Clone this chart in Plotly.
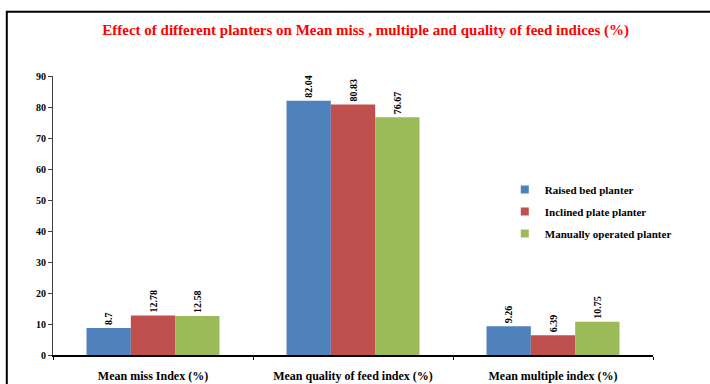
import plotly.graph_objects as go

categories = ["Mean miss Index (%)", "Mean quality of feed index (%)", "Mean multiple index (%)"]
raised_bed = [8.7, 82.04, 9.26]
inclined_plate = [12.78, 80.83, 6.39]
manual = [12.58, 76.67, 10.75]
series_names = ["Raised bed planter", "Inclined plate planter", "Manually operated planter"]
series_colors = ["#4F81BD", "#C0504D", "#9BBB59"]
y_ticks = list(range(0, 100, 10))

serif = "Liberation Serif, Times New Roman, serif"

fig = go.Figure()
for i, (name, vals, col) in enumerate(zip(series_names, [raised_bed, inclined_plate, manual], series_colors)):
    fig.add_trace(go.Bar(
        x=categories, y=vals, name=name,
        marker=dict(color=col, line=dict(width=0)),
        text=[f"{v:g}" for v in vals],
        textposition="outside", textangle=-90,
        textfont=dict(family=serif, size=10, color="black", weight="bold"),
        cliponaxis=False,
        showlegend=False,
    ))
    # compact square legend entry
    fig.add_trace(go.Scatter(
        x=[None], y=[None], mode="markers", name=name,
        marker=dict(symbol="square", size=8, color=col),
        legendgroup=f"g{i}", showlegend=True,
    ))

fig.update_layout(
    width=710, height=384,
    margin=dict(l=53, r=57, t=76, b=29, autoexpand=False),
    paper_bgcolor="white", plot_bgcolor="white",
    barmode="group", bargap=0.335, bargroupgap=0,
    title=dict(
        text="<b>Effect of different planters on Mean miss , multiple and quality of feed indices (%)</b>",
        font=dict(family=serif, size=15, color="#FF0000"),
        x=0.515, xanchor="center", y=0.922, yanchor="middle",
    ),
    showlegend=True,
    legend=dict(
        x=0.753, y=0.645, xanchor="left", yanchor="top",
        font=dict(family=serif, size=11, color="black", weight="bold"),
        bgcolor="rgba(0,0,0,0)", borderwidth=0,
        tracegroupgap=3, itemwidth=30,
    ),
    font=dict(family=serif, color="black"),
)

fig.update_yaxes(
    range=[0, 90], tickvals=y_ticks, automargin=False,
    showgrid=False, zeroline=False,
    showline=True, linecolor="#404040", linewidth=1,
    ticks="outside", ticklen=4, tickcolor="#404040",
    tickfont=dict(family=serif, size=10, color="black", weight="bold"),
)
fig.update_xaxes(
    automargin=False,
    showgrid=False, showline=True, linecolor="black", linewidth=2,
    ticks="outside", ticklen=3, tickcolor="black", tickson="boundaries",
    ticklabelstandoff=9,
    tickfont=dict(family=serif, size=12, color="black", weight="bold"),
)

# outer chart frame
fig.add_shape(type="rect", xref="paper", yref="paper",
              x0=-0.077, x1=1.2, y0=-0.2, y1=1.23,
              line=dict(color="black", width=2), fillcolor="rgba(0,0,0,0)", layer="below")

fig.write_html("out.html")
